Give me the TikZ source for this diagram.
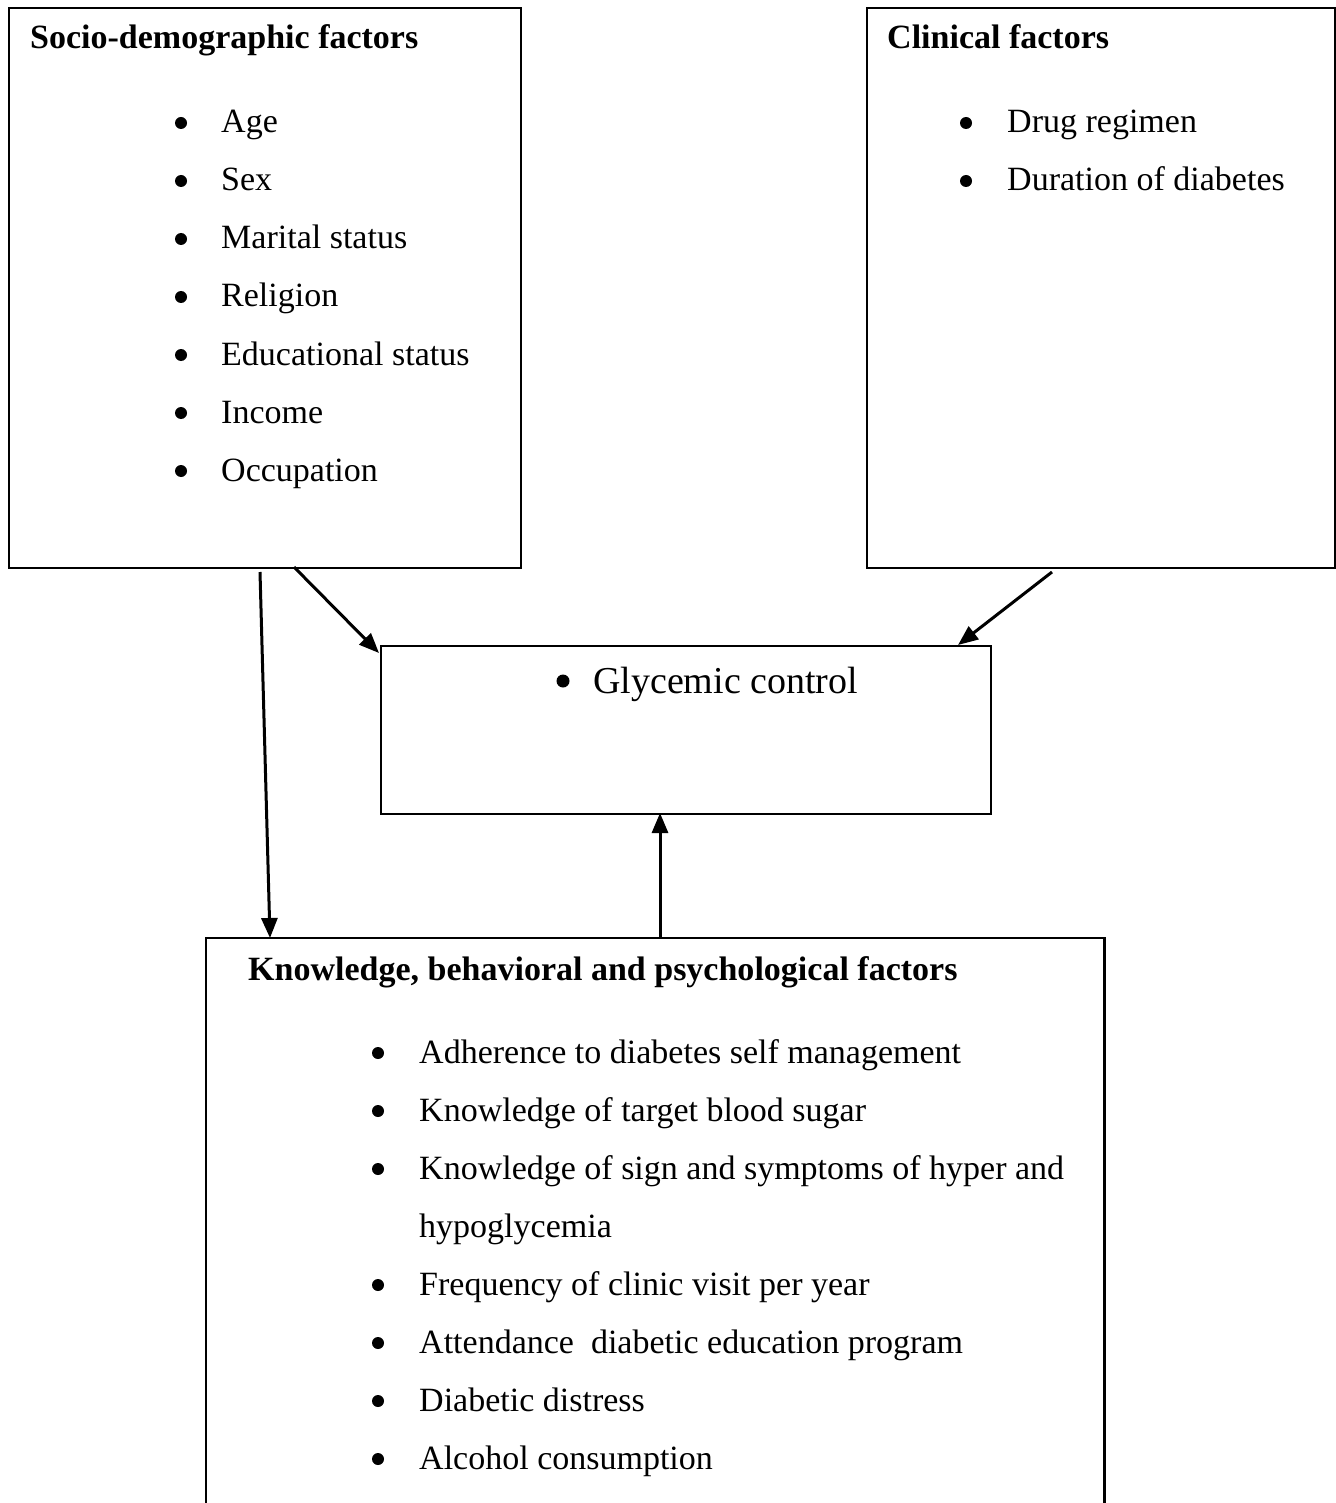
\documentclass[tikz,border=0pt]{standalone}
\usepackage{fontspec}
\setmainfont{Liberation Serif}
\usetikzlibrary{arrows.meta}
\begin{document}
\begin{tikzpicture}[x=1pt,y=-1pt,
  box/.style={draw,line width=2.2pt,inner sep=0pt,anchor=north west},
  head/.style={anchor=base west,inner sep=0pt,font=\fontsize{34}{40}\selectfont\bfseries},
  item/.style={anchor=base west,inner sep=0pt,font=\fontsize{34}{40}\selectfont},
  arr/.style={line width=3pt,-{Triangle[length=20pt,width=16pt]}}]
\useasboundingbox (0,0) rectangle (1335,1503);
% boxes
\node[box,minimum width=512pt,minimum height=560pt] (socio) at (8,7) {};
\node[box,minimum width=468pt,minimum height=560pt] (clin) at (866,7) {};
\node[box,minimum width=610pt,minimum height=168pt] (gly) at (380,645) {};
\node[anchor=north west,inner sep=0pt,minimum width=898pt,minimum height=600pt] (know) at (206,938) {};
\draw[line width=2.2pt] (know.south west) -- (know.north west) -- (know.north east) -- (know.south east);
% headings
\node[head] (sh) at (30,49) {Socio-demographic factors};
\node[head] (ch) at (887,49) {Clinical factors};
\node[head] (kh) at (248,980) {Knowledge, behavioral and psychological factors};
% socio items
\foreach \t [count=\i] in {Age,Sex,Marital status,Religion,Educational status,Income,Occupation}{
  \pgfmathsetmacro{\yy}{133+58*(\i-1)}
  \fill (181,\yy-10) circle (6pt);
  \node[item] (s\i) at (221,\yy) {\t};
}
% clinical items
\foreach \t [count=\i] in {Drug regimen,Duration of diabetes}{
  \pgfmathsetmacro{\yy}{133+58*(\i-1)}
  \fill (966,\yy-10) circle (6pt);
  \node[item] (c\i) at (1007,\yy) {\t};
}
% glycemic
\fill (563,681) circle (6.5pt);
\node[anchor=base west,inner sep=0pt,font=\fontsize{38}{44}\selectfont] (gt) at (593,693) {Glycemic control};
% knowledge items
\foreach \t/\b [count=\i] in {Adherence to diabetes self management/1,Knowledge of target blood sugar/1,Knowledge of sign and symptoms of hyper and/1,hypoglycemia/0,Frequency of clinic visit per year/1,Attendance\ \ diabetic education program/1,Diabetic distress/1,Alcohol consumption/1}{
  \pgfmathsetmacro{\yy}{1063+58*(\i-1)}
  \ifnum\b=1 \fill (378,\yy-10) circle (6pt);\fi
  \node[item] (k\i) at (419,\yy) {\t};
}
% arrows
\coordinate (a1s) at (260,572);
\coordinate (a1e) at (270,938);
\coordinate (a2s) at (294,567);
\coordinate (a2e) at (379,653);
\coordinate (a3s) at (1052,572);
\coordinate (a3e) at (958,645);
\coordinate (a4s) at (660,938);
\coordinate (a4e) at (660,813);
\draw[arr] (a1s) -- (a1e);
\draw[arr] (a2s) -- (a2e);
\draw[arr] (a3s) -- (a3e);
\draw[arr] (a4s) -- (a4e);
\end{tikzpicture}
\end{document}
